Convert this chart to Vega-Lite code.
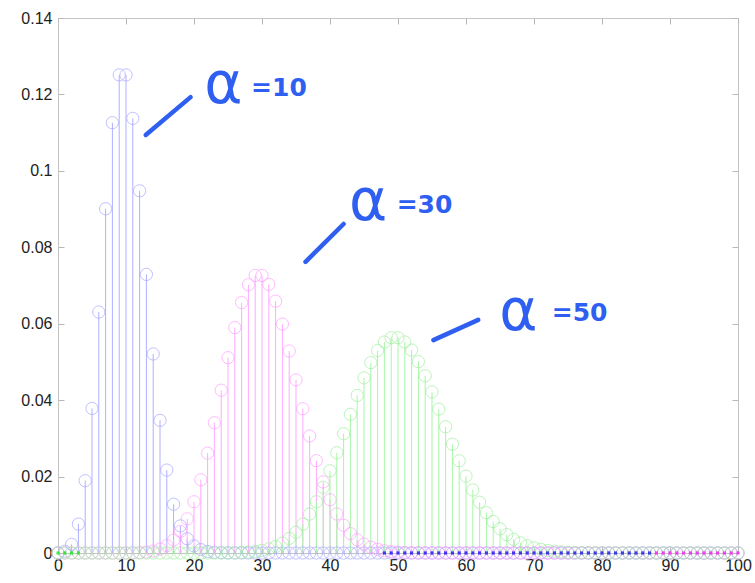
{
  "$schema": "https://vega.github.io/schema/vega-lite/v6.json",
  "width": 680,
  "height": 535,
  "autosize": {"type": "none"},
  "padding": {"left": 58, "top": 18, "right": 17, "bottom": 30},
  "background": "white",
  "config": {
    "view": {"stroke": "#c4c4c4", "strokeWidth": 1},
    "axis": {
      "labelFont": "Liberation Sans",
      "labelFontSize": 16,
      "labelColor": "#222222",
      "domainColor": "#c4c4c4",
      "tickColor": "#b8b8b8",
      "grid": false,
      "title": null
    }
  },
  "datasets": {
    "pmf": [
      {"k":0,"a10":0.0000454,"a30":0,"a50":0},
      {"k":1,"a10":0.000454,"a30":0,"a50":0},
      {"k":2,"a10":0.00227,"a30":0,"a50":0},
      {"k":3,"a10":0.007567,"a30":0,"a50":0},
      {"k":4,"a10":0.018917,"a30":0,"a50":0},
      {"k":5,"a10":0.037833,"a30":0,"a50":0},
      {"k":6,"a10":0.063055,"a30":0,"a50":0},
      {"k":7,"a10":0.090079,"a30":0,"a50":0},
      {"k":8,"a10":0.112599,"a30":0.0000014,"a50":0},
      {"k":9,"a10":0.12511,"a30":0.0000051,"a50":0},
      {"k":10,"a10":0.12511,"a30":0.0000152,"a50":0},
      {"k":11,"a10":0.113736,"a30":0.0000415,"a50":0},
      {"k":12,"a10":0.09478,"a30":0.000104,"a50":0},
      {"k":13,"a10":0.072908,"a30":0.00024,"a50":0},
      {"k":14,"a10":0.052077,"a30":0.000513,"a50":0},
      {"k":15,"a10":0.034718,"a30":0.001027,"a50":0},
      {"k":16,"a10":0.021699,"a30":0.001925,"a50":0},
      {"k":17,"a10":0.012764,"a30":0.003397,"a50":0},
      {"k":18,"a10":0.007091,"a30":0.005662,"a50":0},
      {"k":19,"a10":0.003732,"a30":0.008941,"a50":0},
      {"k":20,"a10":0.001866,"a30":0.013411,"a50":0.0000007},
      {"k":21,"a10":0.000889,"a30":0.019158,"a50":0.0000018},
      {"k":22,"a10":0.000404,"a30":0.026125,"a50":0.0000041},
      {"k":23,"a10":0.000176,"a30":0.034077,"a50":0.0000089},
      {"k":24,"a10":0.0000732,"a30":0.042596,"a50":0.0000185},
      {"k":25,"a10":0.0000293,"a30":0.051115,"a50":0.0000371},
      {"k":26,"a10":0.0000113,"a30":0.058979,"a50":0.0000713},
      {"k":27,"a10":0.0000042,"a30":0.065532,"a50":0.000132},
      {"k":28,"a10":0.0000015,"a30":0.070213,"a50":0.000236},
      {"k":29,"a10":0.0000005,"a30":0.072634,"a50":0.000406},
      {"k":30,"a10":0.0000002,"a30":0.072634,"a50":0.000677},
      {"k":31,"a10":0,"a30":0.070291,"a50":0.001092},
      {"k":32,"a10":0,"a30":0.065898,"a50":0.001707},
      {"k":33,"a10":0,"a30":0.059907,"a50":0.002586},
      {"k":34,"a10":0,"a30":0.052859,"a50":0.003803},
      {"k":35,"a10":0,"a30":0.045308,"a50":0.005432},
      {"k":36,"a10":0,"a30":0.037757,"a50":0.007545},
      {"k":37,"a10":0,"a30":0.030614,"a50":0.010196},
      {"k":38,"a10":0,"a30":0.024169,"a50":0.013416},
      {"k":39,"a10":0,"a30":0.018592,"a50":0.017199},
      {"k":40,"a10":0,"a30":0.013944,"a50":0.021499},
      {"k":41,"a10":0,"a30":0.010203,"a50":0.026219},
      {"k":42,"a10":0,"a30":0.007288,"a50":0.031213},
      {"k":43,"a10":0,"a30":0.005084,"a50":0.036294},
      {"k":44,"a10":0,"a30":0.003467,"a50":0.041243},
      {"k":45,"a10":0,"a30":0.002311,"a50":0.045826},
      {"k":46,"a10":0,"a30":0.001507,"a50":0.049811},
      {"k":47,"a10":0,"a30":0.000962,"a50":0.052991},
      {"k":48,"a10":0,"a30":0.000601,"a50":0.055199},
      {"k":49,"a10":0,"a30":0.000368,"a50":0.056325},
      {"k":50,"a10":0,"a30":0.000221,"a50":0.056325},
      {"k":51,"a10":0,"a30":0.00013,"a50":0.055221},
      {"k":52,"a10":0,"a30":0.000075,"a50":0.053097},
      {"k":53,"a10":0,"a30":0.0000424,"a50":0.050092},
      {"k":54,"a10":0,"a30":0.0000236,"a50":0.046381},
      {"k":55,"a10":0,"a30":0.0000129,"a50":0.042165},
      {"k":56,"a10":0,"a30":0.0000069,"a50":0.037647},
      {"k":57,"a10":0,"a30":0.0000036,"a50":0.033024},
      {"k":58,"a10":0,"a30":0.0000019,"a50":0.028469},
      {"k":59,"a10":0,"a30":0.000001,"a50":0.024126},
      {"k":60,"a10":0,"a30":0,"a50":0.020105},
      {"k":61,"a10":0,"a30":0,"a50":0.01648},
      {"k":62,"a10":0,"a30":0,"a50":0.01329},
      {"k":63,"a10":0,"a30":0,"a50":0.010548},
      {"k":64,"a10":0,"a30":0,"a50":0.008241},
      {"k":65,"a10":0,"a30":0,"a50":0.006339},
      {"k":66,"a10":0,"a30":0,"a50":0.004802},
      {"k":67,"a10":0,"a30":0,"a50":0.003584},
      {"k":68,"a10":0,"a30":0,"a50":0.002635},
      {"k":69,"a10":0,"a30":0,"a50":0.00191},
      {"k":70,"a10":0,"a30":0,"a50":0.001364},
      {"k":71,"a10":0,"a30":0,"a50":0.000961},
      {"k":72,"a10":0,"a30":0,"a50":0.000667},
      {"k":73,"a10":0,"a30":0,"a50":0.000457},
      {"k":74,"a10":0,"a30":0,"a50":0.000309},
      {"k":75,"a10":0,"a30":0,"a50":0.000206},
      {"k":76,"a10":0,"a30":0,"a50":0.000135},
      {"k":77,"a10":0,"a30":0,"a50":0.0000879},
      {"k":78,"a10":0,"a30":0,"a50":0.0000564},
      {"k":79,"a10":0,"a30":0,"a50":0.0000357},
      {"k":80,"a10":0,"a30":0,"a50":0.0000223},
      {"k":81,"a10":0,"a30":0,"a50":0.0000138},
      {"k":82,"a10":0,"a30":0,"a50":0.0000084},
      {"k":83,"a10":0,"a30":0,"a50":0.0000051},
      {"k":84,"a10":0,"a30":0,"a50":0.000003},
      {"k":85,"a10":0,"a30":0,"a50":0.0000018},
      {"k":86,"a10":0,"a30":0,"a50":0.000001},
      {"k":87,"a10":0,"a30":0,"a50":0},
      {"k":88,"a10":0,"a30":0,"a50":0},
      {"k":89,"a10":0,"a30":0,"a50":0},
      {"k":90,"a10":0,"a30":0,"a50":0},
      {"k":91,"a10":0,"a30":0,"a50":0},
      {"k":92,"a10":0,"a30":0,"a50":0},
      {"k":93,"a10":0,"a30":0,"a50":0},
      {"k":94,"a10":0,"a30":0,"a50":0},
      {"k":95,"a10":0,"a30":0,"a50":0},
      {"k":96,"a10":0,"a30":0,"a50":0},
      {"k":97,"a10":0,"a30":0,"a50":0},
      {"k":98,"a10":0,"a30":0,"a50":0},
      {"k":99,"a10":0,"a30":0,"a50":0},
      {"k":100,"a10":0,"a30":0,"a50":0}
    ],
    "zeros": [
      {"k":0,"series":"a50"},{"k":1,"series":"a50"},{"k":2,"series":"a50"},{"k":3,"series":"a50"},
      {"k":48,"series":"a10"},{"k":49,"series":"a10"},{"k":50,"series":"a10"},{"k":51,"series":"a10"},{"k":52,"series":"a10"},{"k":53,"series":"a10"},{"k":54,"series":"a10"},{"k":55,"series":"a10"},{"k":56,"series":"a10"},{"k":57,"series":"a10"},{"k":58,"series":"a10"},{"k":59,"series":"a10"},{"k":60,"series":"a10"},{"k":61,"series":"a10"},{"k":62,"series":"a10"},{"k":63,"series":"a10"},{"k":64,"series":"a10"},{"k":65,"series":"a10"},{"k":66,"series":"a10"},{"k":67,"series":"a10"},{"k":68,"series":"a10"},{"k":69,"series":"a10"},{"k":70,"series":"a10"},{"k":71,"series":"a10"},{"k":72,"series":"a10"},{"k":73,"series":"a10"},{"k":74,"series":"a10"},{"k":75,"series":"a10"},{"k":76,"series":"a10"},{"k":77,"series":"a10"},{"k":78,"series":"a10"},{"k":79,"series":"a10"},{"k":80,"series":"a10"},{"k":81,"series":"a10"},{"k":82,"series":"a10"},{"k":83,"series":"a10"},{"k":84,"series":"a10"},{"k":85,"series":"a10"},{"k":86,"series":"a10"},{"k":87,"series":"a10"},
      {"k":88,"series":"a30"},{"k":89,"series":"a30"},{"k":90,"series":"a30"},{"k":91,"series":"a30"},{"k":92,"series":"a30"},{"k":93,"series":"a30"},{"k":94,"series":"a30"},{"k":95,"series":"a30"},{"k":96,"series":"a30"},{"k":97,"series":"a30"},{"k":98,"series":"a30"},{"k":99,"series":"a30"},{"k":100,"series":"a30"}
    ],
    "notes": [
      {"sx":12.9,"sy":0.1094,"sx2":19.5,"sy2":0.1193,"ax":21.5,"ay":0.1212,"nx":28.4,"ny":0.1217,"num":"=10"},
      {"sx":36.4,"sy":0.0762,"sx2":42.0,"sy2":0.0861,"ax":42.8,"ay":0.0906,"nx":49.8,"ny":0.0911,"num":"=30"},
      {"sx":55.2,"sy":0.0557,"sx2":61.8,"sy2":0.0610,"ax":64.9,"ay":0.0618,"nx":72.6,"ny":0.0628,"num":"=50"}
    ]
  },
  "layer": [
    {
      "data": {"name": "pmf"},
      "transform": [{"fold": ["a10", "a30", "a50"], "as": ["series", "p"]}],
      "mark": {"type": "rule", "strokeWidth": 1},
      "encoding": {
        "x": {"field": "k", "type": "quantitative", "scale": {"domain": [0, 100], "nice": false},
              "axis": {"values": [0,10,20,30,40,50,60,70,80,90,100], "tickSize": -6, "labelPadding": 10, "labelFlush": false}},
        "y": {"field": "p", "type": "quantitative", "scale": {"domain": [0, 0.14], "nice": false},
              "axis": {"values": [0,0.02,0.04,0.06,0.08,0.1,0.12,0.14], "format": ".2~f", "tickSize": -6, "labelPadding": 12}},
        "y2": {"datum": 0},
        "color": {"field": "series", "type": "nominal", "legend": null,
                  "scale": {"domain": ["a10","a30","a50"], "range": ["#b0b0ff","#ffaaff","#a8f5a8"]}}
      }
    },
    {
      "data": {"name": "pmf"},
      "transform": [{"fold": ["a10", "a30", "a50"], "as": ["series", "p"]}],
      "mark": {"type": "point", "shape": "circle", "filled": false, "size": 150, "strokeWidth": 1},
      "encoding": {
        "x": {"field": "k", "type": "quantitative", "axis": null},
        "y": {"field": "p", "type": "quantitative", "axis": null},
        "stroke": {"field": "series", "type": "nominal", "legend": null,
                   "scale": {"domain": ["a10","a30","a50"], "range": ["#a8a8ff","#ffa0ff","#a0f0a0"]}}
      }
    },
    {
      "data": {"name": "zeros"},
      "mark": {"type": "point", "shape": "square", "filled": true, "size": 10},
      "encoding": {
        "x": {"field": "k", "type": "quantitative", "axis": null},
        "y": {"datum": 0, "axis": null},
        "fill": {"field": "series", "type": "nominal", "legend": null,
                 "scale": {"domain": ["a10","a30","a50"], "range": ["#0000ee","#ff00ff","#00ee00"]}}
      }
    },
    {
      "data": {"name": "notes"},
      "mark": {"type": "rule", "strokeWidth": 4.5, "strokeCap": "round", "color": "#2e5ff0"},
      "encoding": {
        "x": {"field": "sx", "type": "quantitative",
              "axis": {"orient": "top", "values": [0,10,20,30,40,50,60,70,80,90,100], "labels": false, "tickSize": -6, "domain": false}},
        "y": {"field": "sy", "type": "quantitative",
              "axis": {"orient": "right", "values": [0,0.02,0.04,0.06,0.08,0.1,0.12,0.14], "labels": false, "tickSize": -6, "domain": false}},
        "x2": {"field": "sx2"},
        "y2": {"field": "sy2"}
      }
    },
    {
      "data": {"name": "notes"},
      "mark": {"type": "text", "text": "α", "font": "DejaVu Sans", "fontSize": 58, "fontWeight": "normal", "color": "#2e5ff0", "align": "left", "baseline": "middle", "dy": -4},
      "encoding": {
        "x": {"field": "ax", "type": "quantitative", "axis": null},
        "y": {"field": "ay", "type": "quantitative", "axis": null}
      }
    },
    {
      "data": {"name": "notes"},
      "mark": {"type": "text", "font": "DejaVu Sans", "fontSize": 25, "fontWeight": "bold", "color": "#2e5ff0", "align": "left", "baseline": "middle"},
      "encoding": {
        "x": {"field": "nx", "type": "quantitative", "axis": null},
        "y": {"field": "ny", "type": "quantitative", "axis": null},
        "text": {"field": "num"}
      }
    }
  ],
  "resolve": {"axis": {"x": "independent", "y": "independent"}}
}
